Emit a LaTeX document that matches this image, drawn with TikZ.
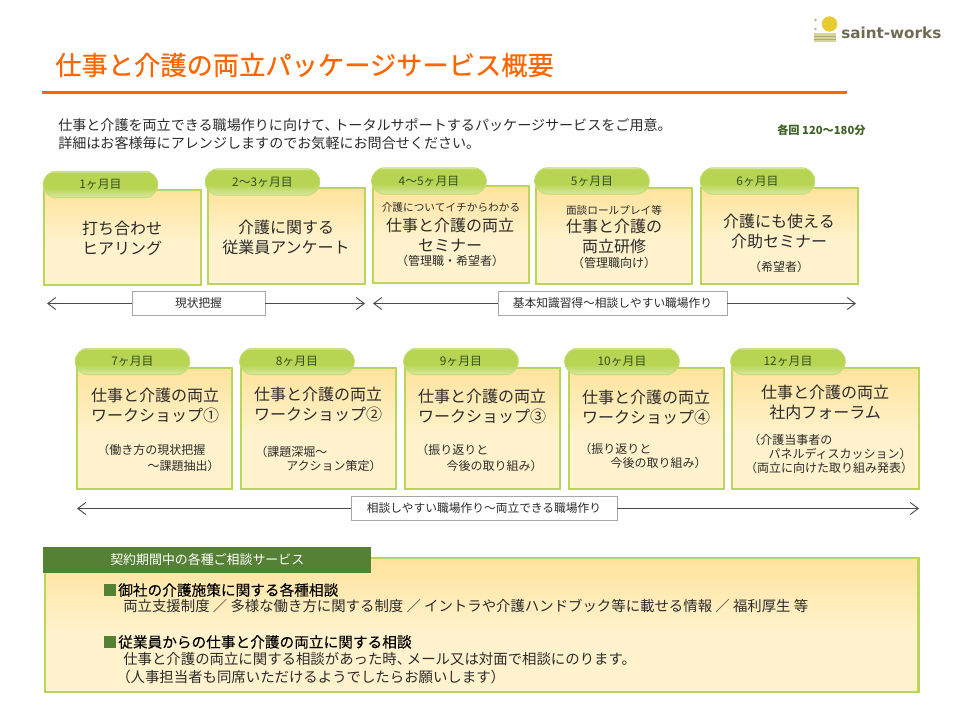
\documentclass[tikz,border=0pt]{standalone}
\usepackage{fontspec}
\setmainfont{Noto Sans CJK JP}
\newfontfamily\logofont{DejaVu Sans}
\newfontfamily\heavyfont[FakeBold=0.5]{Noto Sans CJK JP}
\newfontfamily\headfont[FakeBold=0.15]{Noto Sans CJK JP}
\usepackage{xcolor}
\usetikzlibrary{arrows.meta,positioning}
\definecolor{workOrange}{HTML}{FF6600}
\definecolor{workLine}{HTML}{B9D65C}
\definecolor{workPill}{HTML}{B7D553}
\definecolor{workGreen}{HTML}{558135}
\definecolor{workText}{HTML}{2B2B2B}
\definecolor{workGrey}{HTML}{A6A6A6}
\definecolor{logoGrey}{HTML}{6E6B55}
\definecolor{logoSun}{HTML}{E8CB32}
\definecolor{logoBand}{HTML}{D9D49C}
\definecolor{boxTop}{HTML}{FFE39C}
\definecolor{boxLow}{HTML}{FFF2CC}
\pgfdeclareverticalshading{boxshade}{100bp}{color(0bp)=(boxLow); color(48bp)=(boxLow); color(75bp)=(boxTop); color(100bp)=(boxTop)}
\pgfdeclareverticalshading{pillshade}{100bp}{color(0bp)=(workPill!85!white); color(25bp)=(workPill!85!white); color(28bp)=(workPill!60!white); color(44bp)=(workPill); color(72bp)=(workPill); color(75bp)=(workPill!45!white); color(100bp)=(workPill!45!white)}
\begin{document}
\begin{tikzpicture}[x=.75pt,y=-.75pt,>={Straight Barb[length=6pt,width=9pt]},every node/.style={text=workText,inner sep=0pt}]
\tikzstyle{monthbox}=[draw=workLine,line width=1.7pt,shading=boxshade]
\tikzstyle{monthpill}=[draw=workLine!85!white,line width=.6pt,rounded corners=10pt,shading=pillshade,minimum width=86pt,minimum height=20pt,font=\fontsize{8.9}{11}\selectfont,text=workGreen!60!black]
\tikzstyle{maintext}=[align=center,font=\fontsize{12}{15}\selectfont]
\tikzstyle{subtext}=[font=\fontsize{9}{11}\selectfont]
\tikzstyle{tinytext}=[font=\fontsize{8}{10}\selectfont]
\tikzstyle{spanlabel}=[draw=workGrey,fill=white,line width=.7pt,font=\fontsize{8.8}{11}\selectfont,minimum height=18pt]
\tikzstyle{spanline}=[draw=workText!85!white,line width=.7pt]
\tikzstyle{bodyhead}=[anchor=west,font=\headfont\fontsize{11}{13}\selectfont,text=black]
\tikzstyle{bodytext}=[anchor=west,font=\fontsize{10.8}{13}\selectfont]
\useasboundingbox (0,0) rectangle (960,720);
% logo
\fill[logoSun] (829.5,24) circle (5.8pt);
\fill[logoBand!70!logoGrey] (815.5,20) circle (1.1pt) (815.5,29) circle (1.1pt);
\fill[logoBand] (814,33) rectangle (836,42);
\foreach \y in {36,39}{\draw[logoBand!60!logoGrey,line width=.6pt] (814,\y) -- (836,\y);}
\node[anchor=west,font=\logofont\bfseries\fontsize{11.4}{13}\selectfont,text=logoGrey] (logo) at (841,33) {saint-works};
% title
\node[anchor=west,font=\heavyfont\fontsize{19.7}{23}\selectfont,text=workOrange] (title) at (55,65) {仕事と介護の両立パッケージサービス概要};
\draw[workOrange,line width=2.7pt] (42,92.7) -- (847,92.7);
\node[anchor=west,font=\fontsize{10.55}{13.5}\selectfont,align=left] (intro) at (58,134) {仕事と介護を両立できる職場作りに向けて、\kern-.3em トータルサポートするパッケージサービスをご用意。\\詳細はお客様毎にアレンジしますのでお気軽にお問合せください。};
\node[anchor=west,font=\fontsize{8.4}{10}\selectfont\bfseries,text=workGreen!75!black] (times) at (777,130) {各回 120～180分};
% month boxes
\foreach \nm/\cx/\cy/\w/\h/\px/\py/\lbl in {
  a/122.5/237.5/157/95/100.5/184.5/1ヶ月目,
  b/286.5/236/157/96/262.5/182/2～3ヶ月目,
  c/451/234.5/156/97/429/181/4～5ヶ月目,
  d/614/236/156/96/592/181/5ヶ月目,
  e/779.5/236/157/96/757.5/181/6ヶ月目,
  f/154.5/428.5/155/121/132.5/361.5/7ヶ月目,
  g/318.5/428.5/155/121/297/361.5/8ヶ月目,
  h/482.5/428.5/155/121/461/361.5/9ヶ月目,
  i/646.5/428.5/155/121/622/361.5/10ヶ月目,
  j/825.5/428.5/187/121/788/361.5/12ヶ月目}{
  \node[monthbox,minimum width=\w*.75pt-.4pt,minimum height=\h*.75pt-.4pt] (box\nm) at (\cx,\cy) {};
  \node[monthpill] (pill\nm) at (\px,\py) {\lbl};
}
% box texts, first row
\node[maintext] (texta) at (122,238) {打ち合わせ\\ヒアリング};
\node[maintext] (textb) at (286,237) {介護に関する\\従業員アンケート};
\node[tinytext] (tipc) at (451,207) {介護についてイチからわかる};
\node[maintext] (textc) at (450,235) {仕事と介護の両立\\セミナー};
\node[subtext] (subc) at (450,261) {（管理職・希望者）};
\node[tinytext] (tipd) at (614,210) {面談ロールプレイ等};
\node[maintext] (textd) at (614,236) {仕事と介護の\\両立研修};
\node[subtext] (subd) at (614,263) {（管理職向け）};
\node[maintext] (texte) at (779,231) {介護にも使える\\介助セミナー};
\node[subtext] (sube) at (779,267) {（希望者）};
% box texts, second row
\node[maintext] (textf) at (155,405) {仕事と介護の両立\\ワークショップ①};
\node[subtext,anchor=west] (subfa) at (97,450) {（働き方の現状把握};
\node[subtext,anchor=east] (subfb) at (220,466) {～課題抽出）};
\node[maintext] (textg) at (318,404) {仕事と介護の両立\\ワークショップ②};
\node[subtext,anchor=west] (subga) at (255,452) {（課題深堀～};
\node[subtext,anchor=east] (subgb) at (382,466) {アクション策定）};
\node[maintext] (texth) at (482,406) {仕事と介護の両立\\ワークショップ③};
\node[subtext,anchor=west] (subha) at (416,450) {（振り返りと};
\node[subtext,anchor=east] (subhb) at (543,466) {今後の取り組み）};
\node[maintext] (texti) at (646,407) {仕事と介護の両立\\ワークショップ④};
\node[subtext,anchor=west] (subia) at (579,449) {（振り返りと};
\node[subtext,anchor=east] (subib) at (707,463) {今後の取り組み）};
\node[maintext] (textj) at (825,402) {仕事と介護の両立\\社内フォーラム};
\node[subtext,anchor=west] (subja) at (748,440) {（介護当事者の};
\node[subtext,anchor=east] (subjb) at (912,454) {パネルディスカッション）};
\node[subtext] (subjc) at (829,468) {（両立に向けた取り組み発表）};
% spans
\node[spanlabel,minimum width=99.75pt] (spana) at (198.5,303.5) {現状把握};
\node[spanlabel,minimum width=171.75pt] (spanb) at (612.5,303.5) {基本知識習得～相談しやすい職場作り};
\node[spanlabel,minimum width=199.5pt] (spanc) at (484,508.5) {相談しやすい職場作り～両立できる職場作り};
\coordinate (endaL) at (47,303.5);
\coordinate (endaR) at (365,303.5);
\coordinate (endbL) at (373,303.5);
\coordinate (endbR) at (856,303.5);
\coordinate (endcL) at (77,508.5);
\coordinate (endcR) at (919,508.5);
\foreach \a in {a,b,c}{
  \draw[spanline,->] (span\a) -- (end\a L);
  \draw[spanline,->] (span\a) -- (end\a R);
}
% service panel
\node[monthbox,minimum width=655.3pt,minimum height=101pt] (panel) at (481.5,625) {};
\node[fill=workGreen,minimum width=246pt,minimum height=19.5pt] (panelhead) at (207,560) {};
\node[anchor=west,font=\fontsize{9.7}{12}\selectfont,text=white] (paneltitle) at (110,560) {契約期間中の各種ご相談サービス};
\node[fill=workGreen,minimum width=9.4pt,minimum height=9.4pt] (marka) at (110,590) {};
\node[bodyhead] (heada) at (118,590) {御社の介護施策に関する各種相談};
\node[bodytext] (linea) at (123,606) {両立支援制度 ／ 多様な働き方に関する制度 ／ イントラや介護ハンドブック等に載せる情報 ／ 福利厚生 等};
\node[fill=workGreen,minimum width=9.4pt,minimum height=9.4pt] (markb) at (110,642) {};
\node[bodyhead] (headb) at (118,642) {従業員からの仕事と介護の両立に関する相談};
\node[bodytext] (lineb) at (123,659) {仕事と介護の両立に関する相談があった時、\kern-.3em メール又は対面で相談にのります。};
\node[bodytext] (linec) at (116,677) {（人事担当者も同席いただけるようでしたらお願いします）};
\end{tikzpicture}
\end{document}
